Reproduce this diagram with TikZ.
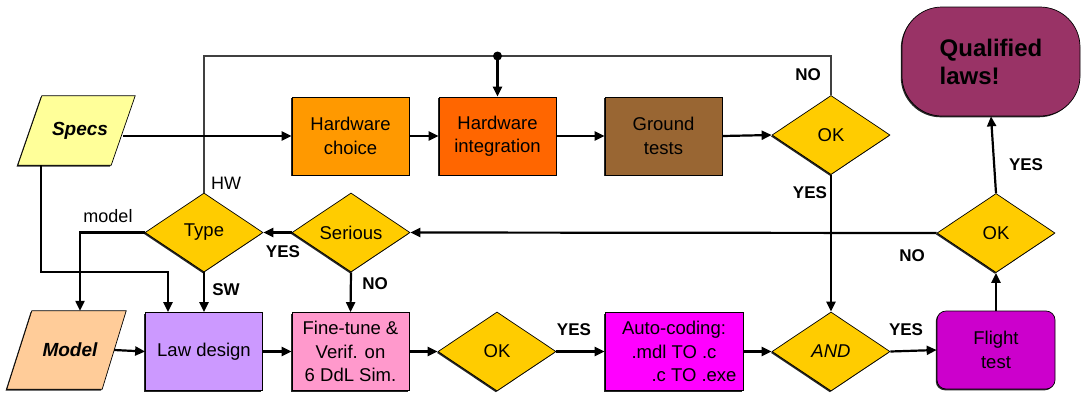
\documentclass[tikz,border=0pt]{standalone}
\usepackage{fontspec}
\setmainfont{Liberation Sans}
\usetikzlibrary{arrows.meta,shapes.geometric,shadows}
\definecolor{cspecs}{HTML}{FFFF99}
\definecolor{cmodel}{HTML}{FFCC99}
\definecolor{chwc}{HTML}{FF9900}
\definecolor{chwi}{HTML}{FF6600}
\definecolor{cgnd}{HTML}{996633}
\definecolor{cdia}{HTML}{FFCC00}
\definecolor{claw}{HTML}{CC99FF}
\definecolor{cfine}{HTML}{FF99CC}
\definecolor{cauto}{HTML}{FF00FF}
\definecolor{cflight}{HTML}{CC00CC}
\definecolor{cqual}{HTML}{993366}
\newcommand{\fsmain}{\fontsize{18.5}{23.5}\selectfont}
\tikzset{
  shad/.style={drop shadow={shadow xshift=-1.2pt,shadow yshift=-1.3pt,opacity=1,fill=black!85}},
  box/.style={rectangle, draw=black, line width=0.7pt, minimum width=117pt, minimum height=78pt,
    inner sep=1pt, align=center, font=\fsmain, shad},
  dia/.style={diamond, draw=black, line width=0.7pt, fill=cdia, minimum width=118pt, minimum height=79pt,
    inner sep=0pt, font=\fsmain, shad},
  paraframe/.style={rectangle, inner sep=0pt},
  paratext/.style={rectangle, inner sep=0pt, font=\fontsize{19}{22}\selectfont\bfseries\itshape},
  parashape/.style={draw=black, line width=0.7pt, shad},
  conn/.style={line width=2.2pt, -{Triangle[length=10pt,width=9pt]}},
  plain/.style={line width=2.2pt},
  lbl/.style={font=\bfseries\fontsize{17}{17}\selectfont, inner sep=0pt},
  lblr/.style={font=\fontsize{18}{18}\selectfont, inner sep=0pt},
}
\begin{document}
\begin{tikzpicture}[x=1pt,y=-1pt]
\path[use as bounding box] (0,0) rectangle (1082,392);

% parallelograms (frame nodes give the geometry, shapes drawn from their anchors)
\node[paraframe, minimum width=117pt, minimum height=69pt] (specs) at (76.5,130.5) {};
\node[paraframe, minimum width=119pt, minimum height=78pt] (model) at (66.5,350) {};
\filldraw[parashape, fill=cspecs] ([xshift=24pt]specs.north west) -- (specs.north east)
  -- ([xshift=-24pt]specs.south east) -- (specs.south west) -- cycle;
\filldraw[parashape, fill=cmodel] ([xshift=25pt]model.north west) -- (model.north east)
  -- ([xshift=-24pt]model.south east) -- (model.south west) -- cycle;
\node[paratext] (specslabel) at (specs.center) {\hspace*{7pt}Specs};
\node[paratext] (modellabel) at (model.center) {\hspace*{7pt}Model};

% boxes
\node[box, fill=chwc] (hwc) at (350.5,136) {Hardware\\choice};
\node[box, fill=chwi] (hwint) at (497.5,136) {Hardware\\integration};
\node[box, fill=cgnd] (gnd) at (663.5,136) {Ground\\tests};
\node[box, fill=claw] (law) at (204,351.5) {Law design};
\node[box, fill=cfine] (fine) at (350.5,351.5) {Fine-tune \&\\Verif. on\\6 DdL Sim.};
\node[box, fill=cauto, minimum width=138pt] (auto) at (674,351.5)
  {Auto-coding:\\.mdl TO .c\\\hspace*{40pt}.c TO .exe};
\node[box, fill=cflight, rounded corners=9pt, minimum width=118pt] (flight) at (996,350) {Flight\\test};
\node[box, fill=cqual, rounded corners=40pt, minimum width=178pt, minimum height=109pt,
  align=left, font=\bfseries\fontsize{24}{28}\selectfont] (qual) at (991,61.5) {Qualified\\laws!};

% diamonds
\node[dia] (type) at (204,232.5) {Type};
\node[dia] (serious) at (351,232.5) {Serious};
\node[dia] (okhw) at (831,135) {OK};
\node[dia] (ok2) at (497,351.5) {OK};
\node[dia] (and) at (831,351.5) {\itshape AND};
\node[dia] (ok3) at (996,233) {OK};

% top loop
\coordinate (jn) at (hwint.north |- 0,56);
\draw[plain, black!75] (type.north) |- (jn);
\draw[plain, black!75] (okhw.north) |- (jn);
\fill (jn) circle (4.5pt);
\draw[conn] (jn) -- (hwint.north);

% top row
\coordinate (specsR) at ([xshift=-12pt]specs.east);
\draw[conn] (specsR |- hwc.west) -- (hwc.west);
\draw[conn] (hwc.east) -- (hwint.west);
\draw[conn] (hwint.east) -- (gnd.west);
\draw[conn] (gnd.east) -- (okhw.west);
\draw[conn] (okhw.south) -- (and.north);

% middle row
\draw[conn] (ok3.west) -- (serious.east);
\draw[conn] (serious.west) -- (type.east);
\draw[conn] (serious.south) -- (fine.north);
\draw[conn] (type.south) -- (law.north);
\coordinate (modelin) at ([xshift=13.5pt]model.north);
\draw[conn] (type.west) -| (modelin);
\coordinate (lawin) at ([xshift=-36pt]law.north);
\coordinate (specsdrop) at ([xshift=-35.5pt]specs.south);
\draw[conn] (specsdrop) |- (lawin |- type.south) -- (lawin);

% bottom row
\coordinate (modelR) at ([xshift=-12pt]model.east);
\draw[conn] (modelR) -- (law.west);
\draw[conn] (law.east) -- (fine.west);
\draw[conn] (fine.east) -- (ok2.west);
\draw[conn] (ok2.east) -- (auto.west);
\draw[conn] (auto.east) -- (and.west);
\draw[conn] (and.east) -- (flight.west);
\draw[conn] (flight.north) -- (ok3.south);
\draw[conn] (ok3.north) -- (qual.south);

% labels
\node[lblr] (lhw) at (226,183) {HW};
\node[lblr] (lmodel) at (108,216) {model};
\node[lbl] (lyes1) at (283,252) {YES};
\node[lbl] (lsw) at (226,290) {SW};
\node[lbl] (lno1) at (375,284) {NO};
\node[lbl] (lno2) at (808,75) {NO};
\node[lbl] (lyes2) at (810,193) {YES};
\node[lbl] (lyes3) at (574,330) {YES};
\node[lbl] (lyes4) at (906,330) {YES};
\node[lbl] (lno3) at (912,256) {NO};
\node[lbl] (lyes5) at (1026,165) {YES};
\end{tikzpicture}
\end{document}
